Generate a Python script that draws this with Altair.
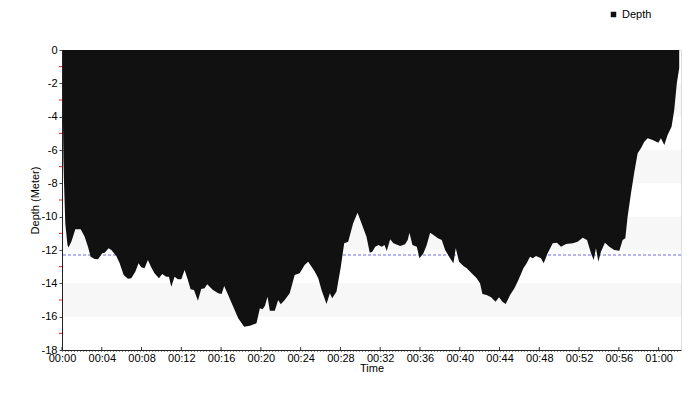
import altair as alt
import pandas as pd

# Dive profile: elapsed minutes and depth in meters
minutes = [0, 0.05, 0.1, 0.14, 0.2, 0.33, 0.55, 0.65, 0.94, 1.34, 1.88, 2.28, 2.61, 2.88, 3.28, 3.62,
           4.05, 4.29, 4.69, 4.96, 5.46, 5.8, 6.2, 6.63, 6.97, 7.37, 7.7, 7.97, 8.3, 8.64, 8.97, 9.3,
           9.75, 10.08, 10.48, 10.75, 10.99, 11.32, 11.66, 12.0, 12.33, 12.66, 12.93, 13.27, 13.67,
           14.0, 14.34, 14.6, 15.18, 15.71, 16.05, 16.31, 16.71, 17.22, 17.72, 18.32, 18.89, 19.56,
           19.9, 20.17, 20.4, 20.67, 20.9, 21.4, 21.74, 22.0, 22.4, 22.9, 23.4, 23.9, 24.4, 24.75,
           25.1, 25.43, 25.77, 26.1, 26.6, 26.94, 27.17, 27.6, 28.04, 28.38, 28.78, 29.28, 29.72,
           30.12, 30.62, 30.95, 31.2, 31.5, 31.83, 32.16, 32.43, 32.66, 33.0, 33.33, 34.0, 34.5,
           34.77, 34.94, 35.24, 35.68, 35.95, 36.35, 36.68, 37.02, 37.36, 37.8, 38.19, 38.53, 39.03,
           39.36, 39.6, 39.93, 40.37, 40.7, 41.2, 41.7, 42.04, 42.28, 42.7, 43.15, 43.6, 43.95,
           44.29, 44.62, 45.06, 45.5, 45.9, 46.4, 46.73, 47.07, 47.34, 47.67, 48.17, 48.44, 48.84,
           49.35, 49.78, 50.18, 50.69, 51.36, 51.86, 52.36, 52.8, 53.2, 53.47, 53.7, 53.94, 54.2,
           54.6, 55.04, 55.54, 56.05, 56.38, 56.65, 56.88, 57.22, 57.56, 57.89, 58.22, 58.56, 58.9,
           59.4, 59.97, 60.23, 60.57, 60.9, 61.3, 61.57, 61.83, 62.07]
depths = [-1.0, -2.2, -4.4, -6.5, -7.9, -10.4, -11.7, -11.85, -11.5, -10.76, -10.76, -11.2, -11.8,
          -12.4, -12.54, -12.56, -12.2, -12.16, -11.9, -12.0, -12.36, -12.8, -13.5, -13.72, -13.7,
          -13.3, -12.8, -13.04, -13.1, -12.6, -13.04, -13.4, -13.7, -13.44, -13.6, -13.6, -14.2,
          -13.6, -13.76, -13.76, -13.2, -13.8, -14.36, -14.4, -15.04, -14.34, -14.3, -14.06, -14.4,
          -14.6, -14.64, -14.16, -14.7, -15.4, -16.1, -16.6, -16.54, -16.4, -15.5, -15.56, -15.36,
          -14.8, -15.64, -15.64, -15.0, -15.26, -15.0, -14.6, -13.5, -13.4, -12.9, -12.7, -13.0,
          -13.3, -13.7, -14.4, -15.24, -14.6, -14.9, -14.5, -13.0, -11.6, -11.5, -10.4, -9.76,
          -10.4, -11.2, -12.16, -12.1, -11.8, -11.7, -11.8, -11.7, -12.06, -11.36, -11.6, -11.76,
          -11.66, -11.4, -10.96, -11.7, -11.8, -12.5, -12.2, -11.7, -10.96, -11.1, -11.3, -11.4,
          -12.0, -12.5, -12.8, -11.9, -12.7, -12.96, -13.1, -13.4, -13.7, -14.0, -14.64, -14.7,
          -14.84, -15.1, -14.84, -15.1, -15.24, -14.7, -14.3, -13.8, -13.1, -12.8, -12.4, -12.5,
          -12.36, -12.5, -12.8, -12.2, -11.6, -11.56, -11.8, -11.64, -11.6, -11.5, -11.26, -11.4,
          -12.2, -12.6, -11.9, -12.7, -12.1, -11.56, -11.8, -12.0, -12.04, -11.4, -11.3, -10.0,
          -8.6, -7.3, -6.2, -5.9, -5.5, -5.3, -5.4, -5.56, -5.3, -5.7, -5.1, -4.6, -3.6, -2.0, -1.1]

mean_depth = [-12.3]
band_low = [-4, -8, -12, -16]
band_high = [-2, -6, -10, -14]
x_tick_minutes = list(range(0, 61, 4))
y_major_ticks = list(range(-18, 1, 2))
y_minor_ticks = list(range(-17, 0, 2))

W, H = 619, 300
FONT = "Liberation Sans"

profile = pd.DataFrame({"t": minutes, "depth": depths, "series": ["Depth"] * len(minutes)})
bands = pd.DataFrame({"lo": band_low, "hi": band_high})
mean_df = pd.DataFrame({"m": mean_depth})
xticks_df = pd.DataFrame({"t": x_tick_minutes})
minor_df = pd.DataFrame({"v": y_minor_ticks})

xscale = alt.Scale(domain=[0, 62.25], nice=False, zero=False)
yscale = alt.Scale(domain=[-18, 0], nice=False)

time_label = ("(floor(datum.value/60)<10?'0':'')+floor(datum.value/60)+':'+"
              "(datum.value%60<10?'0':'')+(datum.value%60)")

y_axis = alt.Axis(values=y_major_ticks, grid=False, labelExpr="'' + datum.value",
                  tickColor="#444444", tickSize=3, labelPadding=2, domainColor="#222",
                  labelColor="#000", labelFontSize=11, labelOverlap=False, labelFlush=False,
                  title="Depth (Meter)", titleFontSize=11, titleFontWeight="normal",
                  titleColor="#000", titleAngle=270, titleX=-27, titleY=150,
                  titleAlign="center", titleBaseline="middle", zindex=1)

x_axis = alt.Axis(values=x_tick_minutes, labelExpr=time_label, title="Time",
                  tickSize=0, labelPadding=2, domainColor="#222", labelColor="#000",
                  labelFontSize=11, labelOverlap=False, titleFontSize=11, titleFontWeight="normal",
                  titleY=18, titleBaseline="middle", titleColor="#000",
                  labelFlush=False, grid=False, zindex=1)

band_layer = alt.Chart(bands).mark_rect(color="#f7f7f7").encode(
    y=alt.Y("lo:Q", scale=yscale, axis=y_axis),
    y2="hi:Q",
    x=alt.value(0),
    x2=alt.value(W),
)

mean_layer = alt.Chart(mean_df).mark_rule(color="#6a6ae8", strokeDash=[3, 2], strokeWidth=1).encode(
    y=alt.Y("m:Q", scale=yscale, axis=y_axis)
)

area_layer = alt.Chart(profile).mark_area(interpolate="linear").encode(
    x=alt.X("t:Q", scale=xscale, axis=x_axis),
    y=alt.Y("depth:Q", scale=yscale, axis=y_axis),
    color=alt.Color("series:N", scale=alt.Scale(range=["#111111"]),
                    legend=alt.Legend(title=None, orient="none", legendX=546, legendY=-41,
                                      symbolType="square", symbolSize=30, symbolStrokeWidth=0,
                                      labelFontSize=11, labelColor="#000", labelOffset=3,
                                      padding=0)),
)

minor_layer = alt.Chart(minor_df).mark_rule(color="#ff1a1a", strokeWidth=1).encode(
    y=alt.Y("v:Q", scale=yscale, axis=y_axis),
    x=alt.value(-3),
    x2=alt.value(0),
)

tick_layer = alt.Chart(xticks_df).mark_rule(color="#333", strokeWidth=1).encode(
    x=alt.X("t:Q", scale=xscale, axis=x_axis),
    y=alt.value(H - 3),
    y2=alt.value(H),
)

dotted_layer = alt.Chart(xticks_df).mark_rule(color="#888", strokeDash=[1, 2], strokeWidth=1).encode(
    x=alt.value(0),
    x2=alt.value(W - 3),
    y=alt.value(H + 1.5),
)

chart = alt.layer(band_layer, mean_layer, area_layer, minor_layer, tick_layer, dotted_layer).properties(
    width=W, height=H,
    autosize=alt.AutoSizeParams(type="none"),
    padding={"left": 54, "top": 42, "right": 11, "bottom": 42},
    background="white",
).configure_view(stroke=None).configure(font=FONT)

chart.save("out.html", embed_options={"renderer": "svg", "actions": False})
